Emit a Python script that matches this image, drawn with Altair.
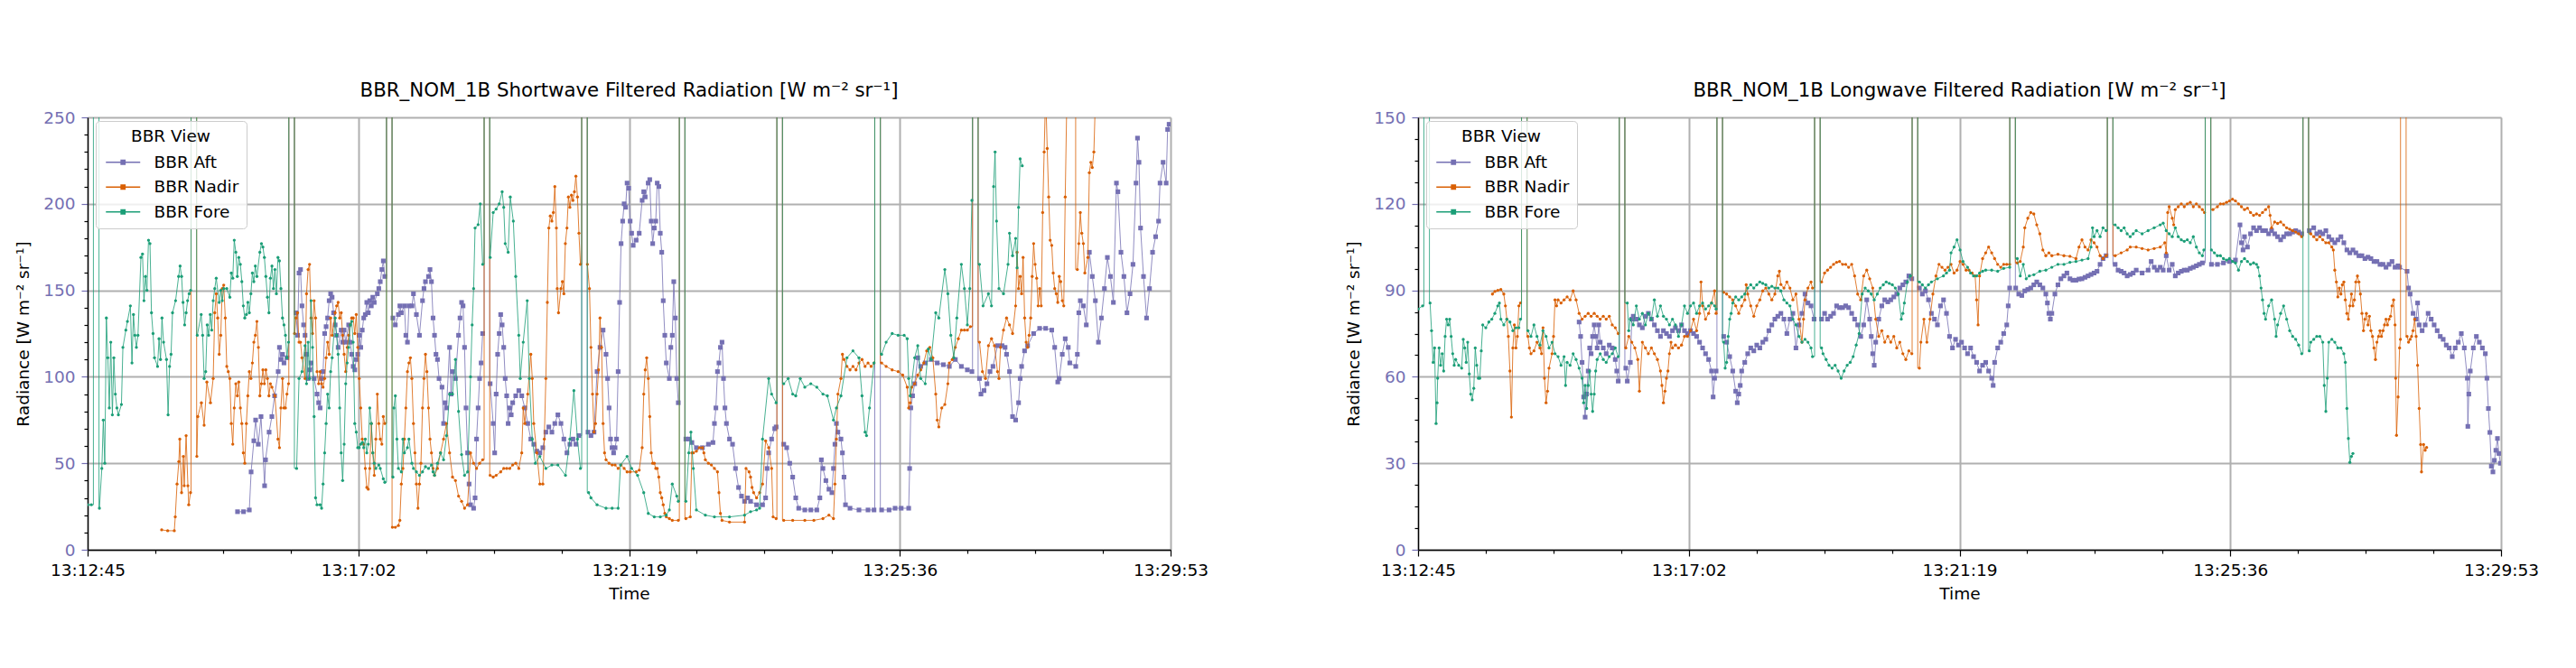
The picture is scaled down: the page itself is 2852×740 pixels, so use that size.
import altair as alt
import pandas as pd

# ---------------- data (seconds after 13:12:45, radiance) ----------------
START_CLOCK_S = 13 * 3600 + 12 * 60 + 45
SPAN_S = 1028
MAJOR_STEP_S = 257
SERIES = ["BBR Aft", "BBR Nadir", "BBR Fore"]
COLORS = ["#7570b3", "#d95f02", "#1b9e77"]
SPIKE_STARTS = [5.5, 98.2, 191.0, 283.7, 376.4, 469.0, 561.7, 654.3, 747.2, 840.0, 932.6]
SPIKE_LENGTH = 5.3
AFT_SPIKES = [5.5, 98.2, 191.0, 283.7, 376.4, 469.0, 561.7, 654.3, 747.2, 840.0]
FILL_VALUE = 1000.0

SW_FORE = [
(0,26),(3.5,26),(11.2,24),(13.5,47),(14.9,75),(16.3,50),(17.8,134),(19.2,111),(20.6,82),(22.0,120),(23.5,78),(24.9,111),(26.3,90),(27.8,82),(29.2,78),(32.1,84),(33.5,117),(36.3,127),(37.8,132),(40.6,141),(42.1,108),(43.5,136),(44.9,124),(46.3,117),(47.8,124),(50.6,169),(52.1,171),(53.5,144),(54.9,158),(56.3,150),(57.8,179),(59.2,177),(60.6,137),(62.1,125),(63.5,111),(66.4,106),(67.8,122),(69.2,110),(70.6,134),(72.1,120),(74.9,110),(76.4,78),(77.8,106),(79.2,113),(80.6,137),(83.5,144),(86.4,158),(87.8,164),(89.2,158),(90.6,143),(92.1,130),(93.5,137),(94.9,144),(96.4,148),(97.8,150),
(104.1,124),(107.8,136),(109.2,124),(110.6,99),(112.1,103),(113.5,130),(114.9,124),(116.4,136),(117.8,127),(119.2,144),(120.7,151),(122.1,157),(124.9,143),(126.4,150),(127.8,144),(129.2,151),(132.1,151),(135.0,146),(136.4,160),(137.8,157),(139.2,179),(140.7,172),(142.1,158),(143.5,169),(145.0,165),(146.4,155),(147.8,141),(149.2,134),(150.7,136),(152.1,143),(153.5,137),(155.0,148),(156.4,160),(157.8,155),(159.2,164),(160.7,158),(163.5,172),(165.0,177),(166.4,175),(167.8,169),(169.2,158),(170.7,146),(172.1,137),(173.5,157),(175.0,164),(176.4,151),(177.8,162),(179.2,148),(180.7,169),(182.1,167),(183.5,151),(185.0,134),(186.4,130),(187.8,124),(189.2,111),(190.7,120),
(198.4,47),(200.7,99),(203.5,103),(206.4,118),(207.8,96),(209.3,120),(210.7,99),(212.1,144),(213.5,117),(215.0,77),(216.4,30),(217.8,26),(220.7,26),(222.1,24),(223.5,38),(225.0,56),(226.4,73),(227.8,90),(229.3,82),(230.7,103),(232.1,111),(235.0,134),(236.4,124),(237.8,113),(239.3,82),(240.7,56),(242.1,40),(243.5,61),(245.0,96),(246.4,108),(247.8,117),(249.3,130),(250.7,132),(252.1,120),(253.6,73),(255.0,68),(256.4,59),(257.8,59),(259.3,61),(260.7,62),(262.1,59),(263.6,64),(265.0,56),(266.4,61),(267.8,82),(269.3,73),(270.7,56),(272.1,50),(273.6,47),(276.4,49),(277.8,47),(280.7,41),(282.1,39),
(289.8,42),(290.7,82),(292.1,89),(293.6,64),(295.0,47),(297.8,45),(299.3,64),(300.7,56),(303.6,59),(305.0,64),(307.8,50),(309.3,47),(312.1,45),(315.0,43),(317.9,45),(320.7,48),(323.6,47),(326.4,49),(327.9,45),(329.3,43),(332.1,50),(335.0,56),(337.9,52),(340.7,66),(343.6,90),(346.4,90),(349.2,110),(352.1,80),(355.0,55),(357.8,43),(360.7,45),(363.5,100),(365.0,130),(366.4,151),(367.8,186),(370.7,188),(372.7,200),(375.0,165),
(382.1,169),(385.0,195),(387.8,197),(390.7,200),(393.5,207),(395.0,198),(396.4,177),(399.2,172),(401.2,204),(404.1,190),(406.4,158),(409.3,124),(410.7,99),(413.5,120),(417.3,144),(419.3,99),(422.1,64),(425.0,50),(429.3,54),(435.0,47),(440.7,49),(446.4,49),(453.6,43),(457.8,64),(461.6,92),(465.0,64),(467.8,47),
(475.6,33),(477.8,30),(483.6,26),(492.1,24),(497.9,24),(503.6,24),(505.9,49),(512.1,54),(516.4,47),(522.1,43),(527.9,33),(532.2,21),(537.9,19),(543.6,19),(549.3,20),(552.2,23),(555.0,38),(559.3,31),(560.7,28),
(567.9,28),(570.7,56),(572.7,68),(575.0,47),(577.9,23),(586.4,20),(595.0,19),(609.3,19),(623.6,20),(629.3,22),(635.0,23),(637.9,24),(640.7,64),(646.5,99),(649.3,90),(653.6,85),
(660.8,96),(665.0,99),(669.3,90),(672.2,89),(676.5,99),(680.8,94),(686.5,96),(692.2,94),(698.0,90),(702.2,89),(708.0,75),(710.8,82),(715.1,89),(720.8,111),(726.5,115),(732.2,111),(735.1,89),(738.0,68),(739.4,66),(742.2,82),(746.5,108),
(753.7,113),(758.0,120),(763.7,125),(769.4,124),(775.1,124),(778.0,122),(779.4,99),(780.8,89),(785.1,111),(788.0,118),(790.8,99),(795.1,96),(798.0,116),(800.8,110),(805.1,137),(808.0,134),(813.7,162),(816.6,148),(819.4,124),(822.3,111),(825.1,134),(829.4,165),(832.3,151),(835.1,130),(837.4,151),(839.4,202),
(846.6,165),(850.0,141),(855.1,148),(858.0,141),(860.0,210),(861.4,230),(862.8,190),(865.1,151),(869.4,148),(873.7,165),(875.1,183),(878.0,170),(880.9,180),(882.3,163),(883.7,198),(885.2,226),(887.2,222)]

SW_AFT = [
(142.3,22),(148.0,22),(153.5,23),(155.2,45),(157.8,63),(159.5,75),(162.0,61),(164.6,77),(168.0,37),(168.9,52),(172.3,68),(174.9,77),(177.5,89),(180.9,103),(182.1,117),(183.5,110),(185.0,113),(186.4,108),(189.2,111),
(197.8,137),(199.3,124),(200.7,160),(202.1,162),(203.5,141),(205.0,130),(206.4,124),(207.8,113),(209.3,99),(210.7,104),(212.1,108),(215.0,99),(217.8,90),(219.3,85),(220.7,82),(222.1,99),(223.5,103),(225.0,125),(226.4,129),(227.8,134),(229.3,144),(230.7,148),(232.1,146),(233.5,137),(235.0,130),(236.4,124),(237.8,117),(240.7,127),(242.1,120),(243.5,127),(245.0,120),(247.8,130),(249.3,120),(250.7,113),(252.1,106),(253.6,104),(255.0,110),(256.4,113),(257.8,124),(259.3,117),(260.7,127),(262.1,134),(263.6,136),(265.0,143),(266.4,137),(267.8,144),(269.3,141),(270.7,146),(272.1,143),(275.0,148),(276.4,151),(277.8,155),(279.3,162),(280.7,167),(282.1,158),
(289.8,134),(292.1,130),(295.0,136),(296.4,141),(297.8,137),(300.7,141),(302.1,124),(303.6,120),(305.0,141),(307.9,141),(309.3,148),(312.1,136),(315.0,124),(317.9,144),(319.3,151),(320.7,155),(323.6,158),(325.0,162),(326.4,155),(327.9,134),(329.3,124),(330.7,113),(332.1,110),(333.6,99),(336.4,94),(337.9,73),(339.3,85),(340.7,82),(343.6,117),(345.0,90),(346.4,103),(349.2,99),(352.1,124),(353.5,134),(355.0,143),(356.4,141),(357.8,117),(359.2,82),(360.7,56),(362.1,38),(363.5,26),(366.4,24),(367.8,30),(369.2,64),(370.7,82),(372.1,99),(373.5,108),(375.0,125),
(382.1,96),(385.0,73),(386.4,56),(387.8,90),(389.2,113),(390.7,125),(392.1,136),(393.5,130),(395.0,117),(396.4,99),(397.8,89),(399.2,73),(400.7,82),(402.1,78),(403.5,85),(406.4,89),(409.3,92),(412.1,89),(415.0,82),(417.8,73),(420.7,64),(423.5,61),(426.4,57),(429.3,56),(432.1,59),(435.0,68),(437.8,71),(440.7,68),(443.5,73),(446.4,78),(449.3,73),(452.1,64),(455.0,56),(457.8,61),(460.7,64),(463.5,61),(466.4,66),
(475.0,68),(477.8,66),(480.7,68),(483.6,103),(486.4,117),(489.3,127),(492.1,113),(493.6,99),(495.0,82),(496.4,64),(497.8,59),(499.3,56),(500.7,59),(502.1,64),(503.6,103),(505.0,143),(506.4,177),(507.9,190),(509.3,200),(510.7,198),(512.1,212),(513.6,209),(515.0,190),(516.4,183),(517.9,176),(520.7,179),(523.6,183),(526.4,202),(527.9,207),(529.3,204),(532.1,212),(533.6,214),(535.0,190),(536.4,177),(537.9,186),(539.3,190),(540.7,212),(542.2,210),(543.6,183),(545.0,172),(546.4,144),(547.9,124),(549.3,108),(552.2,99),(553.6,117),(555.0,124),(556.4,155),(557.9,134),(559.3,99),(560.7,85),
(567.9,64),(570.7,64),(573.6,62),(577.9,59),(583.6,59),(589.3,61),(593.6,62),(595.0,73),(596.4,82),(597.9,103),(599.3,108),(600.7,117),(602.2,120),(603.6,99),(605.0,82),(606.4,73),(609.3,64),(612.2,61),(615.0,47),(617.9,36),(620.7,31),(623.6,28),(626.5,30),(629.3,28),(635.0,26),(640.7,26),(643.6,30),(645.0,47),(646.5,56),(649.3,64),(652.2,70),(653.6,71),
(660.8,61),(663.6,59),(666.5,50),(669.3,42),(672.2,30),(675.0,24),(680.8,23),(686.5,23),(692.2,23),(695.1,30),(696.5,52),(698.0,47),(700.8,40),(703.7,35),(706.5,33),(708.0,47),(709.4,61),(710.8,73),(712.2,68),(715.1,64),(716.5,56),(718.0,42),(719.4,26),(723.7,24),(732.2,23),(740.8,23),(746.5,23),
(753.7,23),(760.8,23),(766.5,24),(772.3,24),(779.4,24),(780.3,47),(781.4,82),(783.1,89),(785.1,96),(788.0,111),(790.8,106),(795.1,108),(800.8,110),(806.5,108),(812.3,107),(818.0,106),(823.7,110),(829.4,106),(835.1,104),(839.4,103),
(846.6,99),(848.0,90),(850.9,92),(853.7,96),(856.6,103),(859.4,106),(863.7,118),(868.0,118),(870.9,117),(872.3,113),(875.1,103),(878.0,77),(880.9,75),(883.7,85),(885.2,99),(886.6,106),(889.4,115),(892.3,118),(898.0,125),(903.7,128),(909.4,128),(915.2,127),(918.0,117),(920.9,97),(922.3,99),(925.2,113),(928.0,122),(930.9,117),(932.3,108),(938.0,106),(939.5,113),(940.9,137),(942.3,144),(945.2,141),(948.0,130),(950.9,172),(953.7,158),(956.6,144),(959.5,120),(962.3,134),(965.2,151),(968.0,169),(970.9,158),(973.7,143),(976.6,212),(978.0,207),(980.9,172),(983.7,158),(986.6,137),(989.5,148),(992.3,165),(995.2,212),(996.6,238),(998.0,224),(999.5,186),(1002.3,158),(1005.2,134),(1008.0,151),(1010.9,172),(1013.8,181),(1016.6,190),(1018.0,212),(1020.9,224),(1023.8,212),(1025.2,243),(1026.6,246)]

SW_NADIR = [
(70.3,11.5),(76.0,11),(82.3,11),(83.2,19),(84.9,38),(86.6,51),(87.5,64),(89.2,33),(90.9,54),(91.7,37),(93.5,66),(95.2,37),(96.0,26),(97.7,33),
(103.7,54),(104.6,77),(108.0,85),(110.6,72),(113.2,97),(116.6,85),(119.2,99),(120.7,137),(122.1,148),(123.5,134),(124.9,113),(126.4,124),(127.8,151),(129.2,153),(130.7,134),(132.1,106),(133.5,103),(135.0,99),(136.4,73),(137.8,61),(139.2,82),(140.7,96),(142.1,89),(143.5,97),(145.0,82),(146.4,73),(147.8,56),(149.2,50),(150.7,73),(152.1,89),(153.5,103),(155.0,99),(156.4,108),(157.8,120),(159.2,124),(160.7,132),(162.1,117),(163.5,89),(165.0,96),(166.4,104),(167.8,96),(169.2,104),(170.7,99),(172.1,89),(173.5,96),(175.0,94),(177.8,89),(180.7,64),(182.1,59),(183.5,82),(185.0,99),(186.4,82),(187.8,82),(189.2,90),(190.7,96),
(196.4,125),(197.8,134),(199.3,137),(200.7,120),(202.1,120),(203.5,111),(206.4,99),(207.8,148),(209.3,162),(210.7,165),(212.1,134),(213.5,125),(215.0,144),(216.4,134),(217.8,103),(219.3,96),(220.7,103),(222.1,96),(223.5,94),(225.0,99),(226.4,111),(227.8,120),(229.3,113),(230.7,134),(232.1,124),(235.0,137),(236.4,141),(237.8,143),(239.3,134),(240.7,137),(242.1,124),(243.5,113),(245.0,103),(246.4,117),(247.8,124),(249.3,130),(250.7,134),(252.1,134),(253.6,125),(255.0,136),(256.4,117),(257.8,99),(259.3,82),(260.7,64),(262.1,61),(263.6,47),(265.0,36),(266.4,35),(267.8,47),(269.3,73),(270.7,56),(272.1,43),(273.6,64),(275.0,90),(276.4,73),(277.8,64),(279.3,61),(280.7,77),(282.1,73),
(289.3,13),(292.1,13),(295.0,14),(296.4,17),(297.8,38),(299.3,47),(300.7,64),(302.1,82),(303.6,103),(305.0,108),(306.4,111),(307.8,99),(309.3,73),(310.7,56),(312.1,38),(313.6,24),(315.0,38),(316.4,50),(317.9,82),(319.3,99),(320.7,113),(322.1,103),(323.6,82),(325.0,64),(326.4,56),(327.9,47),(329.3,43),(332.1,47),(335.0,56),(337.9,64),(340.7,73),(343.6,56),(346.4,42),(349.2,40),(352.1,31),(355.0,28),(357.8,24),(360.7,26),(363.5,56),(366.4,50),(369.2,47),(372.1,50),(375.0,52),
(382.1,43),(385.0,42),(387.8,43),(392.1,45),(395.0,47),(397.8,47),(400.7,47),(403.5,49),(406.4,50),(409.3,47),(412.1,56),(413.5,82),(415.0,73),(417.8,90),(420.7,113),(422.1,99),(423.5,73),(426.4,56),(429.3,38),(432.1,38),(433.5,64),(435.0,99),(436.4,143),(437.8,186),(439.2,193),(440.7,190),(442.1,195),(443.5,210),(445.0,186),(445.8,151),(447.0,137),(449.3,151),(450.7,155),(452.1,148),(453.5,177),(455.0,186),(456.4,204),(457.8,198),(459.3,205),(460.7,202),(462.1,207),(463.5,216),(465.0,204),(466.4,183),(467.8,165),
(474.4,165),(476.4,151),(477.8,117),(479.3,90),(480.7,68),(482.1,73),(483.6,90),(485.0,104),(486.4,134),(487.9,117),(489.3,73),(490.7,56),(492.1,52),(495.0,50),(497.9,49),(500.7,49),(503.6,47),(506.4,49),(509.3,47),(512.1,45),(515.0,45),(520.7,45),(523.6,46),(526.4,59),(527.9,90),(529.3,104),(530.7,111),(532.2,99),(533.6,77),(535.0,56),(536.4,50),(537.9,50),(539.3,47),(540.7,47),(542.2,42),(543.6,33),(545.0,30),(546.4,26),(547.9,21),(549.3,19),(552.2,18),(555.0,17),(560.7,17),
(567.9,18),(572.1,19),(573.6,56),(575.0,56),(577.9,57),(580.7,59),(583.6,59),(585.0,56),(586.4,52),(589.3,50),(592.1,49),(595.0,47),(597.9,45),(599.3,33),(600.7,21),(602.2,17),(609.3,16),(623.6,16),(625.0,47),(627.9,45),(629.3,42),(630.7,36),(632.2,33),(635.0,30),(637.9,33),(640.7,38),(643.6,63),(646.5,59),(649.3,47),(650.7,19),(653.6,18),
(660.8,17),(669.3,17),(680.8,17),(689.4,17),(698.0,18),(703.7,20),(708.0,18),(709.4,38),(710.8,64),(712.2,90),(715.1,99),(716.5,113),(718.0,110),(720.8,106),(723.7,104),(726.5,106),(729.4,104),(732.2,108),(735.1,110),(738.0,106),(740.8,108),(743.7,106),(746.5,108),
(753.7,108),(758.0,106),(763.7,104),(769.4,103),(773.7,101),(778.0,94),(779.4,82),(780.8,85),(782.3,94),(785.1,96),(788.0,101),(790.8,104),(793.7,108),(796.5,115),(799.4,117),(802.3,111),(805.1,90),(806.5,75),(808.0,71),(810.8,82),(813.7,84),(816.6,96),(818.0,108),(820.8,110),(823.7,117),(826.5,122),(829.4,127),(832.3,127),(835.1,127),(838.0,129),
(846.6,120),(849.4,103),(852.3,99),(855.1,118),(858.0,122),(860.8,118),(863.7,103),(865.1,99),(866.6,117),(869.4,127),(872.3,134),(875.1,130),(878.0,125),(880.9,141),(882.3,172),(883.7,151),(885.2,158),(886.6,148),(888.0,169),(889.5,134),(890.9,120),(892.3,117),(893.7,124),(895.2,134),(896.6,158),(898.0,177),(899.4,165),(900.9,157),(902.3,141),(903.7,151),(905.2,141),(906.6,195),(908.0,230),(909.4,265),(910.9,232),(912.3,204),(913.7,179),(915.2,176),(916.6,160),(918.0,151),(919.5,148),(920.9,143),(922.3,158),(923.7,155),(925.2,144),(926.6,141),(928.0,204),(929.5,260),(931.0,265),
(939.5,162),(940.9,177),(942.3,195),(943.7,183),(945.2,177),(946.6,160),(949.5,169),(950.9,218),(952.3,224),(953.7,221),(955.2,230),(956.6,260)]

LW_FORE = [
(0,83.5),(4.3,84.6),(11.4,85.6),(12.8,76),(14.3,65),(15.7,70),(17.1,43.8),(18.0,51),(18.6,59.5),(20.0,70),(21.4,64),(22.9,68),(24.3,62),(25.7,74),(27.1,80),(28.6,78),(30.0,80),(31.4,74),(32.9,68),(34.3,64),(35.7,66),(38.6,64),(41.4,63),(42.9,73),(44.3,70),(45.7,65),(47.1,72),(48.6,61),(50.0,54),(51.4,52),(52.9,56),(54.3,70),(55.7,64),(57.2,59.5),(58.6,59.5),(60.0,69),(61.4,78),(64.3,77),(67.2,79),(70.0,80),(72.9,82),(75.7,84.6),(77.2,85.6),(78.6,80),(81.4,78),(84.3,80),(87.2,79),(90.0,76),(92.9,77),(95.7,77),(97.2,80),
(104.3,76),(107.2,74),(110.0,78),(112.9,74),(115.7,71),(118.6,76),(121.5,74),(124.3,70),(127.2,72),(130.0,68),(132.9,67),(135.7,64),(138.6,67),(140.0,57),(141.5,65),(144.3,64),(147.2,68),(150.0,66),(152.9,63),(155.7,59.5),(157.2,51),(158.6,57),(160.0,49),(161.5,57),(162.9,62),(164.3,54),(165.7,48),(167.2,54),(168.6,62),(170.0,66),(172.9,68),(175.8,66),(178.6,65),(181.5,67),(184.3,68),(187.2,70),(190.0,67),
(198.6,85.6),(200.0,76),(201.5,80),(204.3,78),(207.2,84.6),(210.1,80),(212.9,82),(215.8,78),(218.6,82),(221.5,80),(224.3,86.7),(227.2,81),(230.1,84.6),(232.9,81),(235.8,80),(238.6,78),(241.5,80),(244.3,78),(247.2,74),(250.1,78),(252.9,84.6),(255.8,82),(258.6,84.6),(261.5,85.6),(264.4,82),(267.2,84.6),(270.1,85.6),(272.9,83.5),(275.8,84.6),(278.6,85.6),(281.5,84.6),(282.9,83.5),
(290.1,72),(291.5,63),(292.9,65),(294.4,74),(295.8,80),(297.2,82),(298.7,85.6),(301.5,87.7),(304.4,86.7),(307.2,87.7),(310.1,88.7),(312.9,90.8),(315.8,91.9),(318.7,90.8),(321.5,91.9),(324.4,92.9),(327.2,92.4),(330.1,91.9),(333.0,90.8),(335.8,91.4),(338.7,90.8),(341.6,90.8),(344.4,89.8),(347.3,86.7),(350.1,85.6),(353.0,84.6),(355.8,80),(358.7,78),(361.6,74),(364.4,72),(367.3,73),(370.1,72),(373.0,70),(374.4,67),
(383.0,70),(384.4,68),(387.3,66),(390.1,64),(393.0,63),(395.9,64),(398.7,62),(401.6,59.5),(404.4,62),(407.3,64),(410.2,65),(413.0,67),(415.9,71),(418.7,75),(421.6,88.7),(424.4,90.8),(427.3,89.8),(430.2,88.7),(433.0,86.7),(435.9,88.7),(438.7,90.8),(441.6,91.9),(444.4,92.9),(447.3,92.4),(450.2,91.9),(453.0,90.8),(455.9,88.7),(458.7,80),(460.2,82),(461.6,85.6),(464.5,92.9),(467.3,95),
(475.9,92.9),(478.7,91.9),(481.6,90.8),(484.5,91.9),(487.3,92.9),(493.0,94),(498.7,95),(501.6,96),(504.5,97),(505.9,103),(508.8,105),(511.6,107.5),(514.5,104),(517.3,100),(521.6,98),(524.5,96),(527.3,95),(530.2,95),(533.0,96),(535.9,96.6),(538.8,97),(544.5,97),(550.2,96.6),(555.9,97.6),(561.6,98),
(568.8,101),(571.6,95),(574.5,99),(577.3,94),(580.2,95),(584.5,95.4),(590.2,96.6),(595.9,97),(601.6,98),(607.4,99),(613.1,99),(618.8,99.7),(624.5,100),(630.2,100.5),(636.0,101),(638.8,105),(640.2,111.7),(641.7,108.6),(644.5,110.7),(647.4,108.6),(650.2,111.7),(653.1,110.7),
(661.7,112.7),(664.5,111.7),(667.4,110.7),(670.2,111.7),(673.1,109.6),(676.0,108.6),(678.8,109.6),(681.7,110.7),(687.3,109.6),(693.0,110.7),(698.7,111.7),(704.5,112.7),(707.3,113.3),(710.2,110.7),(713.0,109.6),(715.9,108.6),(718.8,111.7),(721.6,108.6),(724.5,107.5),(727.3,107),(730.2,107.5),(733.0,106.5),(735.9,108.6),(738.8,105),(741.6,103),(744.5,102),(745.9,104),
(753.1,104),(755.9,103),(758.8,102),(761.6,102),(764.5,101),(767.4,100.5),(770.2,101),(773.1,100),(775.9,99.5),(778.8,97),(781.6,100),(784.5,101),(787.3,100),(790.2,99),(793.1,99.5),(795.9,99),(797.3,98),(798.8,95),(800.2,90.8),(801.6,86.7),(803.1,82),(804.5,80),(807.4,84.6),(810.2,86.7),(813.1,80),(814.5,74),(815.9,78),(818.8,82),(821.6,84.6),(824.5,80),(827.4,76),(830.2,74),(833.1,73),(835.9,71),(838.8,68),
(846.0,69),(847.4,72),(850.2,73),(853.1,74),(856.0,74),(858.8,72),(860.2,57),(861.7,48),(863.1,59.5),(864.5,72),(867.4,73),(870.2,72),(873.1,70),(876.0,70),(878.8,68),(880.2,65),(881.7,49),(883.1,38.6),(884.5,30.3),(886.0,32.4),(887.4,33.4)]

LW_AFT = [
(152.9,79),(154.3,74),(155.7,65),(157.2,53),(158.6,46),(160.0,54),(161.5,62),(162.9,70),(164.3,68),(165.7,74),(167.2,78),(168.6,74),(170.0,70),(171.5,78),(172.9,72),(175.8,70),(178.6,68),(181.5,71),(184.3,70),(187.2,66),(188.6,62),(190.0,58.5),
(197.2,63),(198.6,58.5),(201.5,65),(202.9,80),(204.3,81),(207.2,80),(210.1,78),(212.9,77),(215.8,81),(218.6,82),(221.5,80),(224.3,78),(227.2,76),(230.1,74),(232.9,76),(235.8,75),(238.6,74),(241.5,76),(244.3,77),(247.2,76),(250.1,78),(252.9,76),(255.8,75),(258.6,76),(261.5,75),(264.4,74),(267.2,72),(270.1,70),(272.9,68),(275.8,66),(278.6,62),(280.1,53),(281.5,59.5),(282.9,62),
(290.1,74),(292.9,72),(295.8,67),(298.7,62),(301.5,55),(303.0,51),(304.4,54),(305.8,57),(307.2,62),(310.1,65),(312.9,68),(315.8,70),(318.7,69),(321.5,71),(324.4,70),(327.2,72),(330.1,73),(333.0,76),(335.8,78),(338.7,80),(341.5,81),(344.4,82),(347.3,80),(350.1,75),(353.0,80),(355.8,82),(358.7,70),(361.6,78),(364.4,82),(367.3,88.7),(370.1,85.6),(373.0,84.6),(375.9,80),
(383.0,80),(385.9,82),(388.7,80),(391.6,81),(394.4,82),(397.3,84.6),(400.1,84),(403.0,84),(405.9,84.6),(408.7,84),(411.6,82),(414.4,80),(417.3,78),(420.2,74),(423.0,78),(425.9,86.7),(428.7,80),(430.2,74),(431.6,68),(433.0,64),(434.4,72),(437.3,80),(440.2,84.6),(443.0,86.7),(445.9,86),(448.7,86.7),(451.6,87.7),(454.4,88.7),(457.3,90.8),(460.2,91.9),(463.0,92.9),(465.9,95),(468.7,94),
(475.9,90.8),(478.7,88.7),(481.6,89.8),(484.5,86.7),(487.3,82),(490.2,80),(493.0,78),(495.9,84.6),(498.8,86.7),(501.6,82),(504.5,74),(507.3,70),(510.2,73),(513.0,71),(515.9,72),(518.8,70),(521.6,68),(524.5,70),(527.3,67),(530.2,65),(533.0,62),(535.9,64),(538.8,65),(541.6,62),(544.5,59.5),(545.9,57),(547.3,65),(550.2,70),(553.1,72),(555.9,75),(558.8,78),(560.2,84.6),(561.6,90.8),
(567.3,90.8),(570.2,88.7),(573.1,88.2),(575.9,89.8),(578.8,90.3),(581.6,90.8),(584.5,91.9),(587.3,92.9),(590.2,91.9),(593.1,90.8),(595.9,88.7),(597.4,85.6),(598.8,82),(600.2,80),(601.6,82),(604.5,88.7),(607.4,91.9),(610.2,94),(613.1,95),(615.9,96),(618.8,94),(621.6,93.5),(624.5,93.5),(627.4,93.9),(630.2,94),(633.1,94.5),(636.0,95),(638.8,95.5),(641.7,96),(644.5,96.6),(647.4,99),(650.2,101),(653.1,102),
(661.7,99),(664.5,97),(667.4,96.6),(670.2,96),(673.1,95),(676.0,95.5),(678.8,96),(681.7,97),(687.3,96),(693.0,97),(695.9,100),(698.8,98),(701.6,97),(704.5,98),(707.3,97),(710.2,102),(713.0,97),(715.9,99),(718.8,95),(721.6,96),(724.5,96.6),(727.3,97),(730.2,97),(733.0,97.6),(735.9,98),(738.8,98.5),(741.6,99),(744.5,99.5),
(753.1,99),(758.8,99),(764.5,99.5),(770.2,100),(775.9,100.5),(780.2,112.7),(781.6,106.5),(783.1,104),(784.5,108.6),(787.3,105),(790.2,109.6),(793.1,111.7),(795.9,110.7),(798.8,111.7),(801.6,110.7),(804.5,110.7),(807.4,109.6),(810.2,110.7),(813.1,109.6),(815.9,108.6),(818.8,107.5),(821.6,108.6),(824.5,109.6),(827.4,109.6),(830.2,110.2),(833.1,110.7),(835.9,110.2),(838.8,109.6),
(846.0,110.7),(850.2,111.7),(853.1,109.6),(856.0,110.2),(858.8,109.6),(861.7,110.7),(864.5,108.6),(867.4,107.5),(870.2,106.5),(873.1,107.5),(876.0,108.6),(878.8,106.5),(881.7,104),(884.5,103),(887.4,104),(890.2,103),(893.1,102),(896.0,102),(898.8,101),(901.7,101.5),(904.5,101),(907.4,100),(910.2,100),(913.1,99),(916.0,99),(918.8,98),(921.7,99),(924.5,100),(927.4,98),(930.2,98.5),(931.7,98),(938.8,96.6),(940.2,90.8),(941.7,88.7),(944.5,82),(947.4,80),(948.8,85.6),(950.3,78),(953.1,76),(956.0,78),(958.8,82),(961.7,80),(964.5,78),(967.4,76),(970.3,74),(973.1,73),(976.0,71),(978.8,70),(981.7,67),(984.5,70),(987.4,72),(990.3,75),(993.1,70),(996.0,59.5),(996.5,42.8),(997.4,54),(998.8,62),(1001.7,70),(1004.6,74),(1007.4,72),(1010.3,70),(1013.1,68),(1014.6,59.5),(1016.0,49),(1017.4,40.7),(1018.8,29),(1020.3,27),(1021.7,31),(1023.1,34.5),(1024.6,38.6),(1026.0,33.4),(1027.4,30)]

LW_NADIR = [
(70.6,88.7),(72.9,89.6),(75.7,90),(78.6,90.3),(81.4,88.7),(82.9,84.6),(84.3,80),(85.7,74),(87.2,62),(88.6,46),(90.0,70),(91.4,78),(92.9,70),(94.3,74),(95.7,84.6),(97.2,85.6),
(104.3,74),(105.7,70),(107.2,68),(110.0,69),(112.9,72),(115.7,70),(117.2,68),(118.6,77),(120.0,59.5),(121.5,51),(122.9,55),(124.3,63),(127.2,68),(128.6,74),(130.0,86.7),(131.5,84.6),(132.9,86.7),(135.7,85.6),(138.6,86.7),(141.5,87.7),(144.3,86.7),(147.2,89.8),(150.0,86.7),(152.9,82),(155.7,80),(158.6,81),(161.5,82),(164.3,81),(167.2,82),(170.0,81),(172.9,80),(175.8,81),(178.6,80),(181.5,81),(184.3,78),(187.2,77),(190.0,75),
(197.2,70),(200.0,74),(202.9,72),(205.8,70),(208.6,66),(210.1,55),(212.9,72),(215.8,70),(218.6,68),(221.5,70),(224.3,68),(227.2,66),(230.1,62),(231.5,57),(232.9,51),(234.4,55),(235.8,59.5),(237.2,62),(238.6,68),(240.1,72),(241.5,70),(244.3,71),(247.2,70),(250.1,71),(252.9,74),(255.8,74),(258.6,76),(261.5,80),(264.4,76),(267.2,82),(268.6,92.9),(270.1,84.6),(272.9,80),(275.8,82),(278.6,85.6),(281.5,89.8),(282.9,82),
(290.1,89.3),(292.9,88.7),(295.8,87.7),(298.7,86.7),(301.5,84.6),(304.4,82),(307.2,84.6),(310.1,86.7),(311.5,91.9),(312.9,88.7),(315.8,84.6),(318.7,81),(321.5,84.6),(324.4,86.7),(327.2,89.8),(330.1,90.8),(333.0,88.7),(335.8,86.7),(338.7,88.7),(341.5,95),(343.0,96.6),(344.4,92),(347.3,90.8),(350.1,92.9),(353.0,90.8),(355.8,86.7),(358.7,88.7),(361.6,80),(364.4,72),(365.9,80),(367.3,86.7),(370.1,90.8),(373.0,92.9),(374.4,90.8),
(383.0,92.9),(385.9,96),(388.7,97),(391.6,98),(394.4,99),(397.3,99.7),(400.1,100),(403.0,99),(405.9,99),(408.7,98),(411.6,99),(414.4,95),(417.3,88.7),(420.2,86.7),(423.0,95),(425.9,97),(428.7,94),(431.6,90.8),(434.4,80),(437.3,74),(440.2,76),(443.0,72),(445.9,74),(448.7,72),(451.6,74),(454.4,70),(457.3,72),(460.2,68),(463.0,66),(465.9,69),(468.7,68),
(475.9,63),(477.3,72),(480.2,80),(483.0,72),(485.9,80),(488.7,88.7),(491.6,95),(494.5,99),(497.3,98),(500.2,97),(503.0,98),(505.9,99),(508.8,96),(511.6,97),(514.5,100),(517.3,99),(520.2,97),(523.0,97),(525.9,96),(528.8,95),(530.2,86.7),(531.6,78),(533.0,95),(535.9,101),(538.8,103),(541.6,105),(544.5,103),(547.3,101),(550.2,99),(553.1,98),(555.9,99),(558.8,99),(561.6,99),
(568.8,99.5),(571.6,100),(574.5,105),(575.9,111.7),(578.8,115),(581.6,117),(584.5,116.5),(587.3,112.7),(590.2,109.6),(593.1,104),(595.9,102),(598.8,103),(601.6,102),(607.4,102.5),(613.1,102),(618.8,101.8),(624.5,101),(627.4,105),(630.2,107.5),(633.1,105),(636.0,104),(638.8,107.5),(641.7,106.5),(644.5,105),(647.4,102),(650.2,101),(653.1,102),
(661.7,102),(667.4,103),(673.1,104),(676.0,105),(681.7,105),(687.3,104.5),(693.0,104),(698.7,104.5),(704.5,105),(708.8,106.5),(710.2,103),(711.6,117),(713.0,119),(715.9,115),(717.3,112.7),(718.8,118),(721.6,119),(724.5,120),(727.3,119),(730.2,120),(733.0,120.5),(735.9,119),(738.8,120),(741.6,119),(744.5,118),(746.5,117),
(754.5,118),(758.8,119),(761.6,120),(764.5,120),(767.4,120.5),(770.2,121),(773.1,121.6),(775.9,121),(778.8,120),(781.6,119),(784.5,118),(787.3,118.5),(790.2,117),(793.1,116),(795.9,116.5),(798.8,116),(801.6,117),(804.5,118),(807.4,119),(808.8,116),(810.2,111.7),(813.1,113.7),(815.9,113.2),(818.8,113.7),(821.6,112.7),(824.5,111.7),(827.4,111.2),(830.2,110.7),(833.1,110.2),(835.9,109.6),(838.8,108.6),
(847.4,109.6),(850.2,108.6),(853.1,107.5),(856.0,108.6),(858.8,107.5),(861.7,106.5),(864.5,106.5),(867.4,105),(868.8,104),(870.2,97),(871.7,92.9),(873.1,87.7),(874.5,90.8),(876.0,88.7),(877.4,91.9),(878.8,92.9),(880.2,86.7),(881.7,82),(883.1,80),(884.5,84.6),(886.0,88.7),(887.4,84.6),(888.8,86.7),(890.2,92.9),(891.7,95),(893.1,92.9),(894.5,88.7),(896.0,82),(897.4,76),(898.8,80),(900.2,82),(901.7,78),(903.1,81),(904.5,76),(906.0,74),(907.4,70),(908.8,66),(910.2,72),(911.7,74),(913.1,76),(914.5,74),(916.0,76),(917.4,78),(918.8,80),(920.2,78),(921.7,80),(923.1,81),(924.5,84.6),(926.0,86.7),(927.4,78),(928.0,59.5),(928.8,39.7),(930.3,53),(931.7,70),(932.5,73),
(938.8,74),(940.2,72),(941.7,73),(943.1,74),(944.5,76),(946.0,80),(947.4,74),(948.8,64),(950.3,49),(951.7,36.5),(952.5,27),(954.5,36.5),(956.0,34.5),(957.4,35.5)]

UNIT = "[W m\u207b\u00b2 sr\u207b\u00b9]"
TITLES = ["BBR_NOM_1B Shortwave Filtered Radiation " + UNIT,
          "BBR_NOM_1B Longwave Filtered Radiation " + UNIT]
Y_TITLE = "Radiance " + UNIT
X_TITLE = "Time"
SPIKES = {"BBR Aft": AFT_SPIKES, "BBR Nadir": SPIKE_STARTS, "BBR Fore": SPIKE_STARTS}


# ---------------- build tables ----------------
def build(series_pairs):
    line_rows, pt_rows = [], []
    for name, pairs in series_pairs:
        t0, t1 = pairs[0][0], pairs[-1][0]
        spikes = [s for s in SPIKES[name] if t0 < s and s + SPIKE_LENGTH < t1]
        samples = [(t, v) for t, v in pairs
                   if not any(s < t < s + SPIKE_LENGTH for s in spikes)]
        seq = [(t, 1.0, v) for t, v in samples]
        for s in spikes:
            e = s + SPIKE_LENGTH
            prev = [v for t, v in samples if t <= s][-1]
            nxt = [v for t, v in samples if t >= e][0]
            seq += [(s, 2.0, prev), (s, 3.0, FILL_VALUE), (e, 0.0, FILL_VALUE), (e, 0.5, nxt)]
        seq.sort(key=lambda r: (r[0], r[1]))
        for i, (t, _, v) in enumerate(seq):
            line_rows.append({"t": t, "v": v, "series": name, "idx": i})
        for t, v in samples:
            pt_rows.append({"t": t, "v": v, "series": name})
    return pd.DataFrame(line_rows), pd.DataFrame(pt_rows)


FONT = "DejaVu Sans"
LEGEND_PATH = "M-1,0H5.33M1.79,-0.375H2.54V0.375H1.79Z"
MARKERS = {"BBR Aft": ("square", 26), "BBR Nadir": ("circle", 11), "BBR Fore": ("circle", 11)}


def panel(title, series_pairs, ymax, ystep, ymajor):
    line_df, pt_df = build(series_pairs)
    x_vals = [i * MAJOR_STEP_S / 4 for i in range(17)]
    x_major = f"datum.value % {MAJOR_STEP_S} == 0"
    x_label = f"{x_major} ? utcFormat(datum.value * 1000 + {START_CLOCK_S * 1000}, '%H:%M:%S') : ''"
    x_axis = alt.Axis(
        values=x_vals, labelExpr=x_label,
        title=X_TITLE, grid=True, gridColor="#b0b0b0", gridWidth=2,
        gridOpacity={"condition": {"test": x_major, "value": 1}, "value": 0},
        tickSize={"condition": {"test": x_major, "value": 7}, "value": 4},
        tickColor="black", tickWidth=1.2, domainColor="black", domainWidth=1.3,
        labelFont=FONT, labelFontSize=18.5, labelColor="black", labelPadding=6,
        labelFlush=False, labelOverlap=False,
        titleFont=FONT, titleFontSize=18.5, titleFontWeight="normal", titleColor="black", titlePadding=8)
    n = int(round(ymax / ystep))
    y_vals = [i * ystep for i in range(n + 1)]
    y_major = f"datum.value % {ymajor} == 0"
    y_axis = alt.Axis(
        values=y_vals,
        labelExpr=f"{y_major} ? format(datum.value, 'd') : ''",
        title=Y_TITLE, grid=True, gridColor="#b0b0b0", gridWidth=2,
        gridOpacity={"condition": {"test": y_major, "value": 1}, "value": 0},
        tickSize={"condition": {"test": y_major, "value": 7}, "value": 4},
        tickColor={"condition": {"test": y_major, "value": COLORS[0]}, "value": "black"},
        tickWidth=1.2, domainColor="black", domainWidth=1.3,
        labelFont=FONT, labelFontSize=18.5, labelColor=COLORS[0], labelPadding=7,
        labelOverlap=False,
        titleFont=FONT, titleFontSize=18.5, titleFontWeight="normal", titleColor="black", titlePadding=12)
    x = alt.X("t:Q", scale=alt.Scale(domain=[0, SPAN_S], nice=False, zero=False), axis=x_axis)
    y = alt.Y("v:Q", scale=alt.Scale(domain=[0, ymax], nice=False), axis=y_axis)
    legend = alt.Legend(
        title="BBR View", orient="none", legendX=9, legendY=4, symbolType=LEGEND_PATH, symbolSize=144,
        symbolStrokeWidth=1.3, symbolOpacity=1, labelOffset=38, labelFont=FONT, labelFontSize=18.5,
        labelColor="black", titleFont=FONT, titleFontSize=18.5, titleFontWeight="normal",
        titleColor="black", titleAnchor="middle", padding=8, rowPadding=8.5, titlePadding=10,
        strokeColor="#cccccc", fillColor="rgba(255,255,255,0.8)", cornerRadius=4)
    cscale = alt.Scale(domain=SERIES, range=COLORS)
    layers = []
    for name in SERIES:
        shape, size = MARKERS[name]
        ldf = line_df[line_df["series"] == name]
        pdf = pt_df[pt_df["series"] == name]
        layers.append(
            alt.Chart(ldf).mark_line(strokeWidth=1, strokeOpacity=0.8, clip=True).encode(
                x=x, y=y, order=alt.Order("idx:Q"),
                color=alt.Color("series:N", scale=cscale, legend=legend)))
        layers.append(
            alt.Chart(pdf).mark_point(filled=True, shape=shape, size=size, opacity=1, clip=True).encode(
                x=x, y=y, color=alt.Color("series:N", scale=cscale, legend=None)))
    return alt.layer(*layers).properties(
        width=1199, height=479,
        title=alt.TitleParams(title, font=FONT, fontSize=21.3, fontWeight="normal", color="black",
                              anchor="middle", offset=10))


left = panel(TITLES[0], [("BBR Aft", SW_AFT), ("BBR Nadir", SW_NADIR), ("BBR Fore", SW_FORE)], 250, 10, 50)
right = panel(TITLES[1], [("BBR Aft", LW_AFT), ("BBR Nadir", LW_NADIR), ("BBR Fore", LW_FORE)], 150, 7.5, 30)

chart = alt.hconcat(left, right, spacing=150).resolve_scale(color="independent").properties(
    padding={"left": 8, "top": 81, "right": 5, "bottom": 5}
).configure_view(stroke="black", strokeWidth=1.3).configure(font=FONT, background="white")

chart.save("out.html", embed_options={"renderer": "svg", "actions": False})
